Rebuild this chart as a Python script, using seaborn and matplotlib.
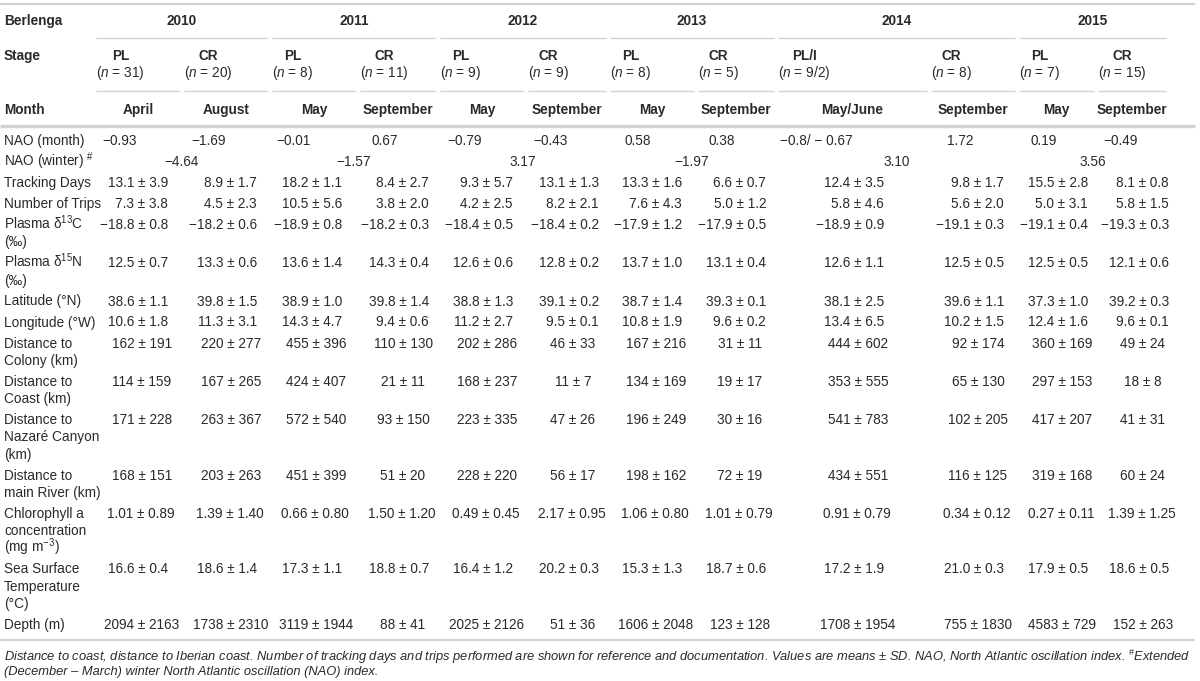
import matplotlib
matplotlib.use('Agg')
import matplotlib.pyplot as plt
import seaborn as sns

# ---- table content ----
years = ['2010', '2011', '2012', '2013', '2014', '2015']
stages = ['PL', 'CR', 'PL', 'CR', 'PL', 'CR', 'PL', 'CR', 'PL/I', 'CR', 'PL', 'CR']
n_sizes = ['31', '20', '8', '11', '9', '9', '8', '5', '9/2', '8', '7', '15']
months = ['April', 'August', 'May', 'September', 'May', 'September',
          'May', 'September', 'May/June', 'September', 'May', 'September']

nao_month = ['-0.93', '-1.69', '-0.01', '0.67', '-0.79', '-0.43',
             '0.58', '0.38', '-0.8/ - 0.67', '1.72', '0.19', '-0.49']
nao_winter = ['-4.64', '-1.57', '3.17', '-1.97', '3.10', '3.56']

track_mean = [13.1, 8.9, 18.2, 8.4, 9.3, 13.1, 13.3, 6.6, 12.4, 9.8, 15.5, 8.1]
track_sd = [3.9, 1.7, 1.1, 2.7, 5.7, 1.3, 1.6, 0.7, 3.5, 1.7, 2.8, 0.8]
trips_mean = [7.3, 4.5, 10.5, 3.8, 4.2, 8.2, 7.6, 5.0, 5.8, 5.6, 5.0, 5.8]
trips_sd = [3.8, 2.3, 5.6, 2.0, 2.5, 2.1, 4.3, 1.2, 4.6, 2.0, 3.1, 1.5]
d13c_mean = [-18.8, -18.2, -18.9, -18.2, -18.4, -18.4, -17.9, -17.9, -18.9, -19.1, -19.1, -19.3]
d13c_sd = [0.8, 0.6, 0.8, 0.3, 0.5, 0.2, 1.2, 0.5, 0.9, 0.3, 0.4, 0.3]
d15n_mean = [12.5, 13.3, 13.6, 14.3, 12.6, 12.8, 13.7, 13.1, 12.6, 12.5, 12.5, 12.1]
d15n_sd = [0.7, 0.6, 1.4, 0.4, 0.6, 0.2, 1.0, 0.4, 1.1, 0.5, 0.5, 0.6]
lat_mean = [38.6, 39.8, 38.9, 39.8, 38.8, 39.1, 38.7, 39.3, 38.1, 39.6, 37.3, 39.2]
lat_sd = [1.1, 1.5, 1.0, 1.4, 1.3, 0.2, 1.4, 0.1, 2.5, 1.1, 1.0, 0.3]
lon_mean = [10.6, 11.3, 14.3, 9.4, 11.2, 9.5, 10.8, 9.6, 13.4, 10.2, 12.4, 9.6]
lon_sd = [1.8, 3.1, 4.7, 0.6, 2.7, 0.1, 1.9, 0.2, 6.5, 1.5, 1.6, 0.1]
colony_mean = [162, 220, 455, 110, 202, 46, 167, 31, 444, 92, 360, 49]
colony_sd = [191, 277, 396, 130, 286, 33, 216, 11, 602, 174, 169, 24]
coast_mean = [114, 167, 424, 21, 168, 11, 134, 19, 353, 65, 297, 18]
coast_sd = [159, 265, 407, 11, 237, 7, 169, 17, 555, 130, 153, 8]
canyon_mean = [171, 263, 572, 93, 223, 47, 196, 30, 541, 102, 417, 41]
canyon_sd = [228, 367, 540, 150, 335, 26, 249, 16, 783, 205, 207, 31]
river_mean = [168, 203, 451, 51, 228, 56, 198, 72, 434, 116, 319, 60]
river_sd = [151, 263, 399, 20, 220, 17, 162, 19, 551, 125, 168, 24]
chl_mean = [1.01, 1.39, 0.66, 1.50, 0.49, 2.17, 1.06, 1.01, 0.91, 0.34, 0.27, 1.39]
chl_sd = [0.89, 1.40, 0.80, 1.20, 0.45, 0.95, 0.80, 0.79, 0.79, 0.12, 0.11, 1.25]
sst_mean = [16.6, 18.6, 17.3, 18.8, 16.4, 20.2, 15.3, 18.7, 17.2, 21.0, 17.9, 18.6]
sst_sd = [0.4, 1.4, 1.1, 0.7, 1.2, 0.3, 1.3, 0.6, 1.9, 0.3, 0.5, 0.5]
depth_mean = [2094, 1738, 3119, 88, 2025, 51, 1606, 123, 1708, 755, 4583, 152]
depth_sd = [2163, 2310, 1944, 41, 2126, 36, 2048, 128, 1954, 1830, 729, 263]

stat_rows = [
    ('Tracking Days', track_mean, track_sd, 1),
    ('Number of Trips', trips_mean, trips_sd, 1),
    ('Plasma δ$^{13}$C\n(‰)', d13c_mean, d13c_sd, 1),
    ('Plasma δ$^{15}$N\n(‰)', d15n_mean, d15n_sd, 1),
    ('Latitude (°N)', lat_mean, lat_sd, 1),
    ('Longitude (°W)', lon_mean, lon_sd, 1),
    ('Distance to\nColony (km)', colony_mean, colony_sd, 0),
    ('Distance to\nCoast (km)', coast_mean, coast_sd, 0),
    ('Distance to\nNazaré Canyon\n(km)', canyon_mean, canyon_sd, 0),
    ('Distance to\nmain River (km)', river_mean, river_sd, 0),
    ('Chlorophyll a\nconcentration\n(mg m$^{-3}$)', chl_mean, chl_sd, 2),
    ('Sea Surface\nTemperature\n(°C)', sst_mean, sst_sd, 1),
    ('Depth (m)', depth_mean, depth_sd, 0),
]

footnote = [
    'Distance to coast, distance to Iberian coast. Number of tracking days and trips performed are shown for '
    'reference and documentation. Values are means ± SD. NAO, North Atlantic oscillation index. $^{\\#}$Extended',
    '(December – March) winter North Atlantic oscillation (NAO) index.',
]

# ---- layout (pixels) ----
col_left = [96, 184, 272, 360, 440, 528, 610, 698, 778, 931, 1019, 1098]
col_right = [180, 268, 356, 436, 524, 606, 694, 774, 927, 1015, 1094, 1166]
val_right = [168, 257, 342, 429, 513, 599, 682, 766, 884, 1004, 1088, 1169]

sns.set_theme(style='white')
plt.rcParams['font.family'] = ['Liberation Sans', 'DejaVu Sans']
plt.rcParams['mathtext.fontset'] = 'custom'
plt.rcParams['mathtext.rm'] = 'Liberation Sans'
plt.rcParams['mathtext.it'] = 'Liberation Sans:italic'
plt.rcParams['mathtext.bf'] = 'Liberation Sans:bold'

FS = 9.8
TXT = '#2a2a2a'
LINE = '#d2d2d2'
MINUS = '\u2212'


def fix_minus(s):
    return s.replace('-', MINUS) if '$' not in s else s


fig = plt.figure(figsize=(12, 6.81), dpi=100)
ax = fig.add_axes([0, 0, 1, 1])
ax.set_xlim(0, 1200)
ax.set_ylim(681, 0)
ax.axis('off')


def put(x, y, s, ha='left', **kw):
    # y is the visual centre of the line; draw on baseline
    ax.text(x, y + 5, s, ha=ha, va='baseline', fontsize=kw.pop('fontsize', FS),
            color=kw.pop('color', TXT), **kw)


# rules
ax.hlines(4, 0, 1195, color=LINE, lw=1.6)
ax.hlines(126, 0, 1195, color=LINE, lw=2.4)
ax.hlines(640, 0, 1195, color=LINE, lw=1.6)

# header rows
put(4, 20, 'Berlenga', weight='bold')
put(4, 55, 'Stage', weight='bold')
put(4, 109, 'Month', weight='bold')

for k, yr in enumerate(years):
    x0, x1 = col_left[2 * k], col_right[2 * k + 1]
    put((x0 + x1) / 2, 20, yr, ha='center', weight='bold')
    ax.hlines(38, x0, x1, color=LINE, lw=1.0)

renderer = fig.canvas.get_renderer()
inv = ax.transData.inverted()
for j in range(len(stages)):
    x0, x1 = col_left[j], col_right[j]
    ax.hlines(91, x0, x1, color=LINE, lw=1.0)
    t = ax.text(x0, 72 + 5, '($\\mathit{n}$ = ' + n_sizes[j] + ')', ha='left',
                va='baseline', fontsize=FS, color=TXT)
    bb = t.get_window_extent(renderer)
    cx = inv.transform(((bb.x0 + bb.x1) / 2, 0))[0]
    put(cx, 55, stages[j], ha='center', weight='bold')
    put((x0 + x1) / 2, 109, months[j], ha='center', weight='bold')

# body rows
row_y = 140
put(4, row_y, 'NAO (month)')
for j, v in enumerate(nao_month):
    put(val_right[j] - 31, row_y, fix_minus(v), ha='right')

row_y += 21
put(4, row_y, 'NAO (winter) $^{\\#}$')
for k, v in enumerate(nao_winter):
    x0, x1 = col_left[2 * k], col_right[2 * k + 1]
    put((x0 + x1) / 2, row_y, fix_minus(v), ha='center')

prev_lines = 1
for label, means, sds, dec in stat_rows:
    row_y += 21 + 17.25 * (prev_lines - 1)
    lines = label.split('\n')
    for i, ln in enumerate(lines):
        put(4, row_y + 17.25 * i, ln)
    for j in range(len(means)):
        s = fix_minus(f'{means[j]:.{dec}f} ± {sds[j]:.{dec}f}')
        if dec == 0:
            put(val_right[j] - 26, row_y, s, ha='center')
        else:
            put(val_right[j] + 6.5 * (dec - 1), row_y, s, ha='right')
    prev_lines = len(lines)

for i, ln in enumerate(footnote):
    put(4, 656 + 14.5 * i, ln, style='italic', fontsize=9.3)

fig.savefig('out.png', dpi=100)
